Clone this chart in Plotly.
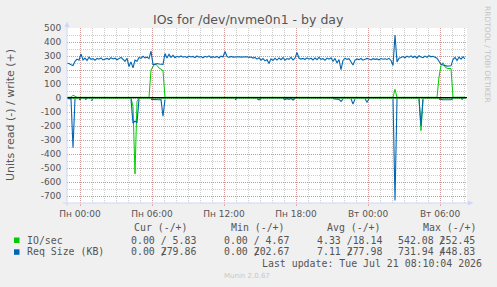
import plotly.graph_objects as go
import pandas as pd

# ---------------- data (5-min RRD samples, shown every 10 min) ----------------
start_time = "2026-07-19 22:55"
n_samples = 200
times = pd.date_range(start_time, periods=n_samples, freq="10min")
x_range = ["2026-07-19 22:55", "2026-07-21 08:15"]

tick_vals = ["2026-07-20 00:00", "2026-07-20 06:00", "2026-07-20 12:00",
             "2026-07-20 18:00", "2026-07-21 00:00", "2026-07-21 06:00"]
tick_text = ["Пн 00:00", "Пн 06:00", "Пн 12:00", "Пн 18:00", "Вт 00:00", "Вт 06:00"]

y_tick_vals = [500, 400, 300, 200, 100, 0, -100, -200, -300, -400, -500, -600, -700]
y_tick_text = ["500", "400", "300", "200", "100", "0", "-100", "-200", "-300",
               "-400", "-500", "-600", "-700"]

# IO/sec write (+)
io_write = [
    5.2, 5.0, 5.4, 20, 14, 5.1, 4.9, 5.3, 5.0, 5.2,
    4.8, 5.1, 5.3, 4.9, 5.0, 5.2, 5.1, 4.9, 5.0, 5.3,
    5.1, 4.8, 5.0, 5.2, 4.9, 5.1, 5.0, 5.3, 4.9, 5.1,
    5.0, 5.4, 5.2, 5.6, 5.3, 5.1, 5.0, 4.9, 5.2, 5.0,
    5.1, 5.0, 200, 228, 248, 232, 214, 206, 195, 5.2,
    5.0, 4.9, 5.1, 5.3, 5.0, 4.8, 5.2, 5.1, 4.9, 5.0,
    5.2, 5.1, 4.9, 5.0, 5.3, 5.1, 4.8, 5.0, 5.2, 4.9,
    5.1, 5.0, 5.2, 4.9, 5.1, 5.3, 5.0, 4.8, 5.1, 5.4,
    5.0, 5.2, 4.9, 5.1, 5.0, 5.3, 4.9, 5.0, 5.2, 5.1,
    4.8, 5.0, 5.1, 5.3, 4.9, 5.0, 5.2, 4.9, 5.1, 5.0,
    5.2, 4.8, 5.0, 5.1, 5.3, 4.9, 5.0, 5.2, 5.1, 4.9,
    5.0, 5.2, 4.9, 5.1, 5.0, 5.4, 5.1, 4.9, 5.0, 5.2,
    5.1, 4.8, 5.0, 5.2, 4.9, 5.1, 5.0, 5.3, 4.9, 5.1,
    5.0, 5.2, 4.9, 5.1, 5.3, 5.0, 4.8, 5.1, 5.0, 5.2,
    4.9, 5.1, 5.0, 5.3, 4.9, 5.0, 5.2, 5.1, 4.8, 5.0,
    5.1, 5.3, 4.9, 5.0, 5.2, 5.1, 4.9, 5.0, 5.2, 4.9,
    5.0, 4.9, 5.1, 5.3, 62, 5.2, 5.0, 4.8, 5.1, 5.0,
    5.2, 4.9, 5.1, 5.0, 5.3, 4.9, 5.0, 5.2, 5.1, 4.9,
    5.1, 4.9, 5.0, 5.2, 5.0, 5.1, 150, 232, 252, 222,
    212, 213, 210, 5.4, 5.2, 5.0, 5.3, 5.1, 5.6, 5.83,
]

# IO/sec read (-), stored positive as munin does
io_read = [
    0.2, 0.3, 0.2, 1.0, 0.2, 0, 0.3, 0.2, 0, 0.2,
    0.1, 0, 0.4, 0.2, 0, 0, 0, 0, 0, 0,
    0, 0, 0, 0, 0, 0, 0, 0, 0, 0,
    0, 0, 0.5, 60, 542, 25, 0.3, 0, 0, 0,
    0, 0, 0.3, 0.4, 0.3, 0.4, 0.3, 0.3, 3, 0.2,
    0, 0, 0, 0, 0, 0, 0, 0, 0, 0,
    0, 0, 0, 0, 0, 0, 0, 0, 0, 0,
    0, 0, 0, 0, 0, 0, 0, 0, 0, 0,
    0, 0, 0, 0, 0.2, 0.1, 0, 0, 0, 0,
    0, 0, 0, 0, 0, 0.1, 0.2, 0.1, 0, 0,
    0, 0, 0, 0, 0, 0, 0, 0, 0.1, 0.2,
    0.1, 0.2, 0.1, 0.2, 0.1, 0, 0, 0, 0, 0,
    0, 0, 0, 0, 0, 0, 0, 0, 0, 0,
    0, 0, 0, 0.1, 0.2, 0.1, 0.2, 0.4, 0.2, 0,
    0, 0, 0.1, 0.6, 0.2, 0, 0, 0, 0, 0.1,
    0.5, 0.1, 0, 0, 0, 0, 0, 0, 0, 0,
    0, 0, 0, 0.1, 0.8, 0.1, 0, 0, 0, 0,
    0, 0, 0, 0, 0, 0, 0.2, 233, 0.3, 0,
    0, 0, 0, 0, 0, 0, 0.2, 0.3, 0.3, 0.3,
    0.3, 0.3, 0.3, 0.1, 0, 0, 0, 0.1, 0.2, 0,
]

# Req Size (KB) write (+)
req_write = [
    248, 246, 238, 232, 262, 278, 270, 315, 272, 285,
    268, 292, 276, 281, 270, 283, 277, 286, 272, 279,
    283, 275, 288, 279, 284, 273, 281, 290, 277, 262,
    284, 225, 258, 215, 270, 262, 290, 283, 298, 286,
    292, 281, 335, 240, 238, 246, 243, 244, 240, 318,
    285, 312, 290, 305, 288, 298, 292, 300, 291, 296,
    289, 299, 293, 297, 288, 300, 291, 296, 287, 298,
    292, 301, 289, 295, 290, 297, 286, 299, 293, 332,
    296, 290, 297, 292, 294, 293, 295, 292, 294, 291,
    295, 290, 293, 285, 290, 278, 288, 270, 282, 265,
    274, 246, 280, 268, 284, 271, 286, 274, 289, 270,
    282, 276, 290, 272, 285, 325, 284, 278, 283, 275,
    287, 277, 284, 272, 286, 274, 290, 276, 281, 270,
    285, 278, 288, 262, 283, 250, 275, 202, 268, 284,
    276, 281, 262, 236, 271, 279, 274, 282, 270, 276,
    283, 278, 272, 281, 276, 279, 273, 282, 277, 280,
    275, 283, 268, 232, 450, 258, 284, 290, 296, 287,
    299, 292, 301, 289, 298, 285, 302, 293, 288, 299,
    291, 303, 294, 298, 290, 284, 262, 240, 236, 230,
    228, 229, 230, 275, 290, 268, 292, 278, 295, 280,
]

# Req Size (KB) read (-), stored positive; None = no reads (unknown)
req_read = [
    4, 5, 6, 355, 6, None, 12, 8, None, 10,
    6, None, 18, 10, None, None, None, None, None, None,
    None, None, None, None, None, None, None, None, None, None,
    None, None, 10, 180, 165, 178, 8, None, None, None,
    None, None, 10, 12, 14, 12, 13, 12, 130, 10,
    None, None, None, None, None, None, None, None, None, None,
    None, None, None, None, None, None, None, None, None, None,
    None, None, None, None, None, None, None, None, None, None,
    None, None, None, None, 12, 4, None, None, None, None,
    None, None, None, None, None, 6, 14, 5, None, None,
    None, None, None, None, None, None, None, None, 4, 12,
    5, 10, 4, 14, 4, None, None, None, None, None,
    None, None, None, None, None, None, None, None, None, None,
    None, None, None, 5, 8, 6, 10, 25, 8, None,
    None, None, 6, 43, 8, None, None, None, None, 5,
    30, 6, None, None, None, None, None, None, None, None,
    None, None, None, 6, 732, 5, None, None, None, None,
    None, None, None, None, None, None, 8, 200, 10, None,
    None, None, None, None, None, None, 8, 12, 13, 12,
    12, 14, 12, 6, None, None, None, 5, 8, None,
]

legend_rows = [
    ("IO/sec", ["0.00 / 5.83", "0.00 / 4.67", "4.33 /18.14", "542.08 252.45"]),
    ("Req Size (KB)", ["0.00 279.86", "0.00 202.67", "7.11 277.98", "731.94 448.83"]),
]
legend_headers = ["Cur (-/+)", "Min (-/+)", "Avg (-/+)", "Max (-/+)"]
last_update = "Last update: Tue Jul 21 08:10:04 2026"

# ---------------- styling ----------------
GREEN = "#00CC00"
BLUE = "#0066B3"
FONT_C = "#555555"
AXIS_C = "#CFD6F8"
MGRID = "rgba(222,79,79,0.42)"
GRID = "rgba(143,143,143,0.45)"

W, H = 497, 287
L, R, T, B = 67, 30, 28, 84
PW, PH = W - L - R, H - T - B


def px(x):
    return (x - L) / PW


def py(y):
    return (H - B - y) / PH


fig = go.Figure()
fig.add_trace(go.Scatter(x=times, y=[-v for v in io_read], mode="lines",
                         line=dict(color=GREEN, width=1), hoverinfo="skip"))
fig.add_trace(go.Scatter(x=times, y=io_write, mode="lines",
                         line=dict(color=GREEN, width=1), hoverinfo="skip"))
fig.add_trace(go.Scatter(x=times, y=[None if v is None else -v for v in req_read],
                         mode="lines", connectgaps=False,
                         line=dict(color=BLUE, width=1.1), hoverinfo="skip"))
fig.add_trace(go.Scatter(x=times, y=req_write, mode="lines",
                         line=dict(color=BLUE, width=1.1), hoverinfo="skip"))

fig.update_layout(
    width=W, height=H,
    margin=dict(l=L, r=R, t=T, b=B, pad=0),
    paper_bgcolor="#F0F0F0", plot_bgcolor="#FFFFFF",
    showlegend=False,
    font=dict(family="DejaVu Sans", size=9, color=FONT_C),
)
fig.update_xaxes(
    type="date", range=x_range, tickmode="array", tickvals=tick_vals, ticktext=tick_text,
    showgrid=True, gridcolor=MGRID, griddash="1px,1px", gridwidth=1,
    ticks="outside", ticklen=2, tickcolor=MGRID, tickfont=dict(size=9, color=FONT_C),
    zeroline=False, showline=False,
    minor=dict(dtick=3600000, tick0="2026-07-20 00:00", showgrid=True,
               gridcolor=GRID, griddash="1px,1px", gridwidth=1, ticks=""),
)
fig.update_yaxes(
    range=[-750, 500], tickmode="array", tickvals=y_tick_vals, ticktext=y_tick_text,
    showgrid=True, gridcolor=MGRID, griddash="1px,1px", gridwidth=1,
    ticks="outside", ticklen=3, tickcolor="rgba(0,0,0,0)", tickfont=dict(size=9, color=FONT_C),
    zeroline=False, showline=False,
    minor=dict(dtick=50, tick0=0, showgrid=True, gridcolor=GRID,
               griddash="1px,1px", gridwidth=1, ticks=""),
)

shapes = []
# zero rule
shapes.append(dict(type="line", xref="paper", yref="y", x0=0, x1=1, y0=2, y1=2,
                   line=dict(color="#000000", width=1.2), layer="above"))
# axes with arrows
shapes.append(dict(type="line", xref="paper", yref="paper", x0=px(67), x1=px(67),
                   y0=py(206), y1=py(25), line=dict(color=AXIS_C, width=1), layer="above"))
shapes.append(dict(type="line", xref="paper", yref="paper", x0=px(63), x1=px(469),
                   y0=py(203), y1=py(203), line=dict(color=AXIS_C, width=1), layer="above"))
shapes.append(dict(type="path", xref="paper", yref="paper",
                   path=f"M {px(64.5)},{py(27)} L {px(69.5)},{py(27)} L {px(67)},{py(21.5)} Z",
                   fillcolor=AXIS_C, line=dict(width=0), layer="above"))
shapes.append(dict(type="path", xref="paper", yref="paper",
                   path=f"M {px(468)},{py(200.5)} L {px(468)},{py(205.5)} L {px(473.5)},{py(203)} Z",
                   fillcolor=AXIS_C, line=dict(width=0), layer="above"))
# legend swatches
shapes.append(dict(type="rect", xref="paper", yref="paper", x0=px(14), x1=px(19.5),
                   y0=py(243), y1=py(237.5), fillcolor=GREEN, line=dict(width=0)))
shapes.append(dict(type="rect", xref="paper", yref="paper", x0=px(14), x1=px(19.5),
                   y0=py(254.8), y1=py(249.3), fillcolor=BLUE, line=dict(width=0)))
fig.update_layout(shapes=shapes)

annotations = []


def ann(text, x, y, size, color=FONT_C, family="DejaVu Sans", xanchor="left", angle=0):
    annotations.append(dict(text=text, x=px(x), y=py(y), xref="paper", yref="paper",
                            xanchor=xanchor, yanchor="middle", showarrow=False,
                            textangle=angle, borderpad=0, borderwidth=0,
                            font=dict(size=size, color=color, family=family)))


MONO = "DejaVu Sans Mono"
CW = 5.96
ann("IOs for /dev/nvme0n1 - by day", 248.5, 19.5, 12.5, xanchor="center")
ann("Units read (-) / write (+)", 10, 115, 11, xanchor="center", angle=-90)
ann("RRDTOOL / TOBI OETIKER", 488, 54, 7.5, color="#C4C4C4", xanchor="center", angle=90)

header_x = [134.3, 231, 327.3, 422.7]
col_x = [131, 224, 316.7, 397.7]
slash_idx = [5, 5, 5, 7]
for hx, h in zip(header_x, legend_headers):
    ann(h, hx, 227.7, 9.9, family=MONO)
row_y = [240, 251.7]
for (label, vals), ry in zip(legend_rows, row_y):
    ann(label, 26.7, ry, 9.9, family=MONO)
    for cx, v, si in zip(col_x, vals, slash_idx):
        ann(v, cx, ry, 9.9, family=MONO)
        if "/" not in v:
            ann("/", cx + si * CW, ry, 9.9, family=MONO)
ann(last_update, 261.7, 263.3, 9.9, family=MONO)
ann("Munin 2.0.67", 247, 276, 7, color="#C8C8C8", xanchor="center")
fig.update_layout(annotations=annotations)

fig.write_html("out.html")
